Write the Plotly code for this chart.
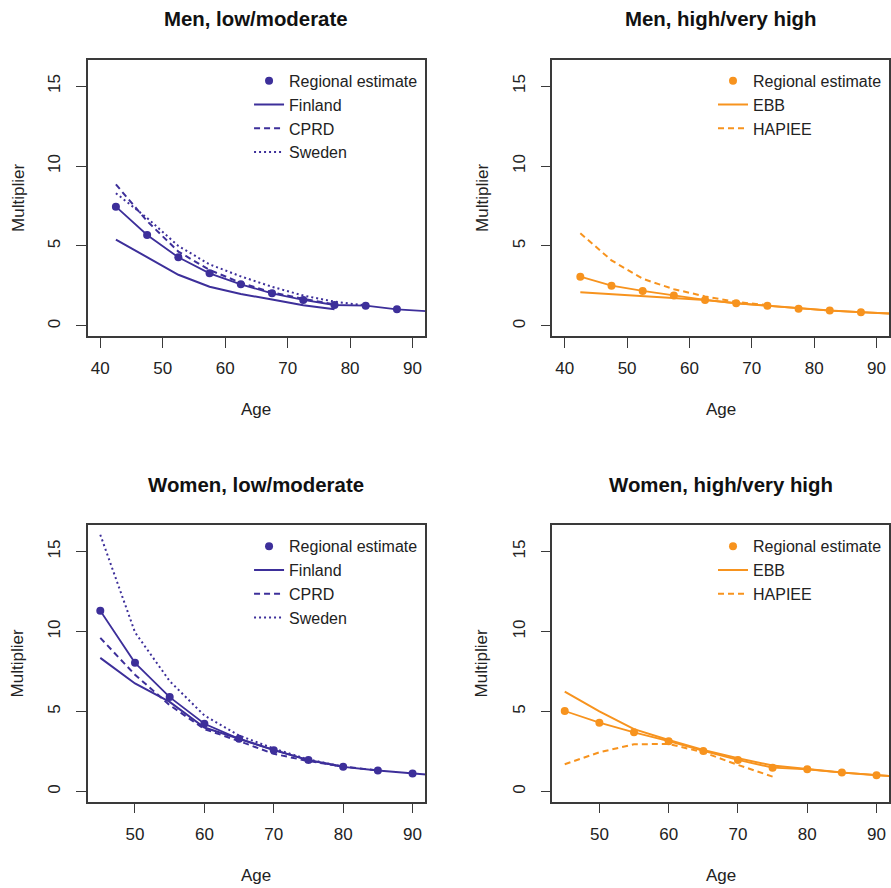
import plotly.graph_objects as go

FONT = "Liberation Sans, Arial, sans-serif"
PURPLE = "#3D2F9A"
ORANGE = "#F7931E"
AXIS_COLOR = "#3a3a3a"

# ---------------- data ----------------
# age-group midpoints; the last group lies beyond the axis edge (only its line segment shows)
ages_men = [42.5, 47.5, 52.5, 57.5, 62.5, 67.5, 72.5, 77.5, 82.5, 87.5, 92.5]
ages_women = [45, 50, 55, 60, 65, 70, 75, 80, 85, 90, 95]

# Men, low/moderate
men_low_regional = [7.46, 5.69, 4.29, 3.29, 2.60, 2.04, 1.63, 1.31, 1.27, 1.04, 0.92]
men_low_finland = [5.40, 4.30, 3.20, 2.45, 2.00, 1.65, 1.30, 1.05]
men_low_cprd = [8.85, 6.55, 4.65, 3.50, 2.70, 2.10, 1.70, 1.35]
men_low_sweden = [8.30, 6.75, 5.00, 3.85, 3.10, 2.45, 1.90, 1.52, 1.28]

# Men, high/very high
men_high_regional = [3.08, 2.52, 2.19, 1.90, 1.63, 1.42, 1.27, 1.08, 0.96, 0.86, 0.77]
men_high_ebb = [2.10, 1.98, 1.87, 1.75, 1.63, 1.42, 1.27, 1.08, 0.96, 0.86, 0.77]
men_high_hapiee = [5.80, 4.10, 2.95, 2.30, 1.85, 1.50, 1.30]

# Women, low/moderate
women_low_regional = [11.30, 8.04, 5.90, 4.23, 3.29, 2.58, 1.96, 1.54, 1.31, 1.12, 0.95]
women_low_finland = [8.35, 6.75, 5.60, 4.00, 3.30, 2.60, 1.96, 1.54]
women_low_cprd = [9.60, 7.30, 5.40, 3.90, 3.15, 2.35, 1.90, 1.56, 1.31]
women_low_sweden = [16.05, 9.95, 6.90, 4.75, 3.50, 2.68, 2.00, 1.56]

# Women, high/very high
women_high_regional = [5.03, 4.30, 3.70, 3.14, 2.53, 1.97, 1.49, 1.39, 1.18, 1.01, 0.88]
women_high_ebb = [6.24, 5.00, 3.90, 3.22, 2.60, 2.08, 1.62, 1.39, 1.18, 1.01, 0.88]
women_high_hapiee = [1.70, 2.45, 2.95, 2.97, 2.45, 1.66, 0.93]

panel_titles = ["Men, low/moderate", "Men, high/very high",
                "Women, low/moderate", "Women, high/very high"]
x_ticks_men = [40, 50, 60, 70, 80, 90]
x_ticks_women = [50, 60, 70, 80, 90]
y_ticks = [0, 5, 10, 15]

DASH = {"solid": "solid", "dashed": "6px,4px", "dotted": "2px,3px"}

panels = [
    dict(ages=ages_men, regional=men_low_regional, color=PURPLE,
         series=[("Finland", men_low_finland, "solid"),
                 ("CPRD", men_low_cprd, "dashed"),
                 ("Sweden", men_low_sweden, "dotted")]),
    dict(ages=ages_men, regional=men_high_regional, color=ORANGE,
         series=[("EBB", men_high_ebb, "solid"),
                 ("HAPIEE", men_high_hapiee, "dashed")]),
    dict(ages=ages_women, regional=women_low_regional, color=PURPLE,
         series=[("Finland", women_low_finland, "solid"),
                 ("CPRD", women_low_cprd, "dashed"),
                 ("Sweden", women_low_sweden, "dotted")]),
    dict(ages=ages_women, regional=women_high_regional, color=ORANGE,
         series=[("EBB", women_high_ebb, "solid"),
                 ("HAPIEE", women_high_hapiee, "dashed")]),
]

# ---------------- layout geometry ----------------
W, H = 891, 888
x_dom = [[88 / W, 426 / W], [553.5 / W, 1.0], [88 / W, 426 / W], [553.5 / W, 1.0]]
y_dom = [[1 - 336.2 / H, 1 - 59.8 / H], [1 - 336.2 / H, 1 - 59.8 / H],
         [1 - 801.7 / H, 1 - 525.3 / H], [1 - 801.7 / H, 1 - 525.3 / H]]
x_ranges = [[38, 92], [38, 92], [43.2, 91.8], [43.2, 91.8]]
x_tickvals = [x_ticks_men, x_ticks_men, x_ticks_women, x_ticks_women]
y_range = [-0.64, 16.64]

fig = go.Figure()

for i, p in enumerate(panels):
    n = i + 1
    xa = "x" if n == 1 else f"x{n}"
    ya = "y" if n == 1 else f"y{n}"
    lg = "legend" if n == 1 else f"legend{n}"
    col = p["color"]
    ages = p["ages"]
    # line joining the regional estimates
    fig.add_trace(go.Scatter(x=ages, y=p["regional"], mode="lines",
                             line=dict(color=col, width=1.8),
                             showlegend=False, hoverinfo="skip",
                             xaxis=xa, yaxis=ya))
    for rank, (name, vals, style) in enumerate(p["series"], start=2):
        fig.add_trace(go.Scatter(x=ages[:len(vals)], y=vals, mode="lines", name=name,
                                 line=dict(color=col, width=2, dash=DASH[style]),
                                 legend=lg, legendrank=rank,
                                 xaxis=xa, yaxis=ya))
    # regional estimate points (the last, off-axis group has no visible point)
    fig.add_trace(go.Scatter(x=ages[:-1], y=p["regional"][:-1], mode="markers",
                             name="Regional estimate",
                             marker=dict(color=col, size=8),
                             legend=lg, legendrank=1,
                             xaxis=xa, yaxis=ya))

    axis_common = dict(showline=True, linecolor=AXIS_COLOR, linewidth=1.5, mirror=True,
                       ticks="outside", ticklen=10, tickwidth=1.3, tickcolor=AXIS_COLOR,
                       showgrid=False, zeroline=False,
                       tickfont=dict(family=FONT, size=17, color="#222"))
    fig.layout[f"xaxis{'' if n == 1 else n}"] = dict(
        domain=x_dom[i], range=x_ranges[i], tickvals=x_tickvals[i],
        anchor=ya, ticklabelstandoff=6, **axis_common)
    fig.layout[f"yaxis{'' if n == 1 else n}"] = dict(
        domain=y_dom[i], range=y_range, tickvals=y_ticks, tickangle=-90,
        anchor=xa, ticklabelstandoff=9, **axis_common)
    fig.layout[lg] = dict(x=x_dom[i][1] - 2 / W, y=y_dom[i][1] - 4 / H,
                          xanchor="right", yanchor="top",
                          bgcolor="rgba(0,0,0,0)",
                          font=dict(family=FONT, size=16, color="#222"),
                          tracegroupgap=0)

annotations = []
for i, t in enumerate(panel_titles):
    cx = (x_dom[i][0] + x_dom[i][1]) / 2
    ty = 1 - 19 / H if i < 2 else 1 - 485 / H
    annotations.append(dict(text=f"<b>{t}</b>", x=cx, y=ty, xref="paper", yref="paper",
                            showarrow=False, xanchor="center", yanchor="middle",
                            font=dict(family=FONT, size=20.4, color="#111")))
    age_y = 1 - 409 / H if i < 2 else 1 - 875 / H
    annotations.append(dict(text="Age", x=cx, y=age_y, xref="paper", yref="paper",
                            showarrow=False, xanchor="center", yanchor="middle",
                            font=dict(family=FONT, size=17, color="#222")))
    mx = 18 / W if i % 2 == 0 else 483 / W
    my = (y_dom[i][0] + y_dom[i][1]) / 2
    annotations.append(dict(text="Multiplier", x=mx, y=my, xref="paper", yref="paper",
                            showarrow=False, textangle=-90, xanchor="center",
                            yanchor="middle",
                            font=dict(family=FONT, size=17, color="#222")))

fig.update_layout(width=W, height=H, margin=dict(l=0, r=0, t=0, b=0),
                  paper_bgcolor="white", plot_bgcolor="white",
                  annotations=annotations, font=dict(family=FONT))

fig.write_html("out.html")
